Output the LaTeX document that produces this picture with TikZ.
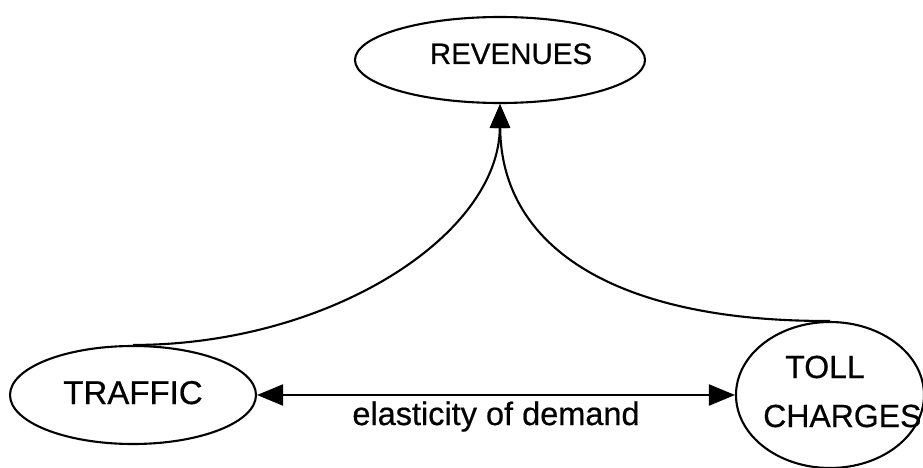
\documentclass[tikz,border=0pt]{standalone}
\usepackage{fontspec}
\setmainfont{Liberation Sans}
\newfontfamily\heavysans[FakeBold=0.5]{Liberation Sans}
\usetikzlibrary{shapes.geometric,arrows.meta}

\tikzset{
  bubble/.style={draw, ellipse, line width=2.1pt, inner sep=0pt},
  caption/.style={inner sep=0pt, anchor=base, font=\heavysans},
  link/.style={line width=2.1pt, -{Triangle[length=24pt,width=20pt]}},
  twoway/.style={line width=2.1pt, {Triangle[length=26pt,width=21pt]}-{Triangle[length=26pt,width=21pt]}}
}

\begin{document}
\begin{tikzpicture}[x=1pt, y=-1pt]
  \useasboundingbox (0,0) rectangle (923,468);
  \clip (0,0) rectangle (923,468);

  % the three quantities
  \node[bubble, minimum width=290pt, minimum height=86pt] (rev) at (500,60) {};
  \node[bubble, minimum width=246pt, minimum height=98pt] (traffic) at (133,395) {};
  \node[bubble, minimum width=188pt, minimum height=146pt] (toll) at (830,395) {};

  \node[caption, font=\heavysans\fontsize{29.5}{34}\selectfont] (revtext) at (511,64) {REVENUES};
  \node[caption, font=\heavysans\fontsize{33}{40}\selectfont] (traffictext) at (133,404) {TRAFFIC};
  \node[caption, font=\heavysans\fontsize{32}{38}\selectfont] (tolltext) at (825,378) {TOLL};
  \node[caption, anchor=base west, font=\heavysans\fontsize{32}{38}\selectfont] (chargestext) at (763,427) {CHARGES};

  % both feed into revenues
  \draw[link] (traffic.north) .. controls (330,345) and (499,235) .. (rev.south);
  \draw[link] (toll.north) .. controls (620,322) and (501,250) .. (rev.south);

  % mutual dependence of traffic and tolls
  \draw[twoway] (traffic.east) -- (toll.west);
  \node[caption, font=\heavysans\fontsize{32.5}{39}\selectfont] (elast) at (496,425) {elasticity of demand};
\end{tikzpicture}
\end{document}
